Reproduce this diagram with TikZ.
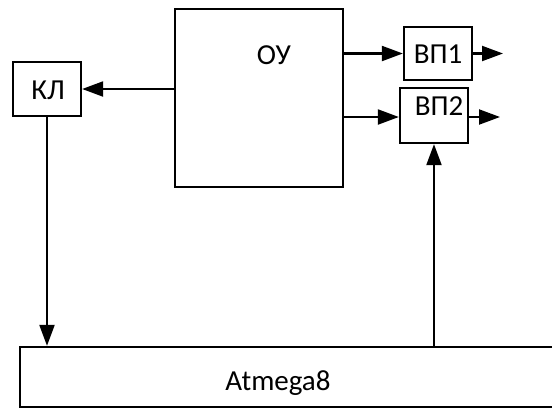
\documentclass[tikz,border=0pt]{standalone}
\usepackage{fontspec}
\setmainfont{Carlito}
\usetikzlibrary{arrows.meta}

\tikzset{
  blok/.style={draw, line width=1.3pt, inner sep=0pt},
  nadpis/.style={font=\fontsize{16.5}{18}\selectfont, inner sep=0pt},
  strelka/.style={line width=1.2pt, -{Triangle[length=0.42cm, width=0.3cm]}}
}

\begin{document}
\begin{tikzpicture}[x=0.02cm, y=-0.02cm]
    % рамка рисунка
    \useasboundingbox (0,0) rectangle (552,410);
    \clip (0,0) rectangle (552,410);

    % блоки
    \node[blok, minimum width=3.36cm, minimum height=3.56cm] (ou) at (259,98) {};
    \node[blok, minimum width=1.36cm, minimum height=1.08cm] (kl) at (47,89) {};
    \node[blok, minimum width=1.36cm, minimum height=1.06cm] (vp1) at (438,53.5) {};
    \node[blok, minimum width=1.36cm, minimum height=1.10cm] (vp2) at (434,115.5) {};
    \node[blok, minimum width=11cm, minimum height=1.2cm] (atm) at (295,377) {};

    % надписи
    \node[nadpis] (tou) at (274,55) {ОУ};
    \node[nadpis] (tkl) at (48,90) {КЛ};
    \node[nadpis] (tvp1) at (438,54) {ВП1};
    \node[nadpis] (tvp2) at (439,106) {ВП2};
    \node[nadpis] (tatm) at (278,383) {Atmega8};

    % выходы
    \coordinate (out1) at (503,53.5);
    \coordinate (out2) at (500,117);

    % связи
    \draw[strelka] (ou.west |- kl.east) -- (kl.east);
    \draw[strelka] (ou.east |- vp1.west) -- (vp1.west);
    \draw[strelka] (ou.east |- out2) -- (vp2.west |- out2);
    \draw[strelka] (vp1.east) -- (out1);
    \draw[strelka] (vp2.east |- out2) -- (out2);
    \draw[strelka] (kl.south) -- (kl.south |- atm.north);
    \draw[strelka] (vp2.south |- atm.north) -- (vp2.south);
\end{tikzpicture}
\end{document}
